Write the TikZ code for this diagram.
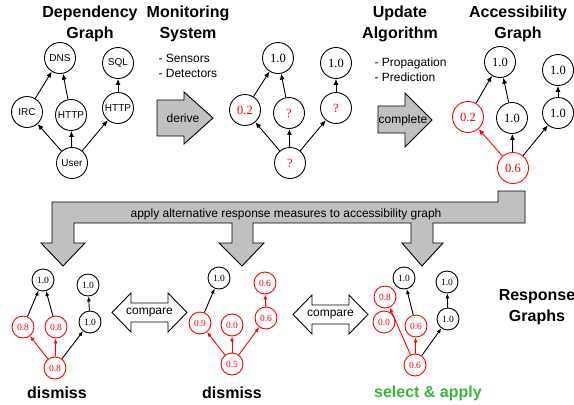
\documentclass[tikz,border=0pt]{standalone}
\usepackage{fontspec}
\setmainfont{Liberation Serif}
\setsansfont{Liberation Sans}
\usepackage{tikz}
\usetikzlibrary{arrows.meta}
\definecolor{AlertRed}{RGB}{255,0,0}
\definecolor{BandGray}{RGB}{192,192,192}
\definecolor{ApplyGreen}{RGB}{57,181,60}

\begin{document}
\begin{tikzpicture}[x=1pt,y=-1pt,>={Latex[length=6pt,width=5pt]},
    dep/.style={circle,draw,line width=.9pt,minimum size=31pt,inner sep=1pt,
      font=\sffamily\fontsize{10}{12}\selectfont},
    acc/.style={circle,draw,line width=.9pt,minimum size=31pt,inner sep=1pt,
      font=\fontsize{12.5}{14}\selectfont},
    resp/.style={circle,draw,line width=.9pt,minimum size=22pt,inner sep=.5pt,
      font=\fontsize{9.5}{11}\selectfont},
    guess/.style={text=AlertRed},
    hot/.style={draw=AlertRed,text=AlertRed},
    link/.style={->,line width=.9pt},
    hotlink/.style={link,AlertRed},
    small/.style={-{Latex[length=5pt,width=4pt]}},
    title/.style={font=\sffamily\bfseries\fontsize{16}{21}\selectfont,align=center},
    caption/.style={font=\sffamily\bfseries\fontsize{16}{19}\selectfont},
    note/.style={font=\sffamily\fontsize{12}{15}\selectfont,align=left,anchor=west},
    label/.style={font=\sffamily\fontsize{12}{14}\selectfont},
    block/.style={draw,fill=BandGray,line width=.9pt},
    hollow/.style={draw,fill=white,line width=.9pt}]
  \useasboundingbox (0,0) rectangle (574,405);

  % titles
  \node[title] (deptitle) at (90,23.5) {Dependency\\Graph};
  \node[title] (montitle) at (188,23.5) {Monitoring\\System};
  \node[title] (updtitle) at (400,23.5) {Update\\Algorithm};
  \node[title] (acctitle) at (518,23.5) {Accessibility\\Graph};
  \node[title] (restitle) at (537,307.5) {Response\\Graphs};
  \node[note] (monnote) at (155,65.5) {- Sensors\\- Detectors};
  \node[note] (updnote) at (371,70) {- Propagation\\- Prediction};

  % dependency graph
  \node[dep] (dns) at (60,58) {DNS};
  \node[dep] (sql) at (118,63) {SQL};
  \node[dep] (irc) at (27,112) {IRC};
  \node[dep] (http) at (71,115) {HTTP};
  \node[dep] (httpb) at (118,108) {HTTP};
  \node[dep] (user) at (72,163) {User};
  \foreach \a/\b in {user/irc,user/http,user/httpb,irc/dns,http/dns,httpb/sql}
    \draw[link] (\a) -- (\b);

  % derive
  \draw[block] (157,100) -- (184,100) -- (184,92) -- (213,118)
    -- (184,144) -- (184,136) -- (157,136) -- cycle;
  \node[label] (derive) at (183,118) {derive};

  % monitored graph
  \node[acc] (mtopa) at (278,58) {1.0};
  \node[acc] (mtopb) at (336,63) {1.0};
  \node[acc,guess] (mirc) at (245,110) {0.2};
  \node[acc,guess] (mhttp) at (289,113) {?};
  \node[acc,guess] (mhttpb) at (336,108) {?};
  \node[acc,guess] (muser) at (290,163) {?};
  \foreach \a/\b in {muser/mirc,muser/mhttp,muser/mhttpb,mirc/mtopa,mhttp/mtopa,mhttpb/mtopb}
    \draw[link] (\a) -- (\b);

  % complete
  \draw[block] (378,106) -- (405,106) -- (405,93) -- (432,120)
    -- (405,147) -- (405,133) -- (378,133) -- cycle;
  \node[label] (complete) at (403,120) {complete};

  % accessibility graph
  \node[acc] (atopa) at (500,62) {1.0};
  \node[acc] (atopb) at (558,70) {1.0};
  \node[acc,hot] (airc) at (468,117) {0.2};
  \node[acc] (ahttp) at (512,118) {1.0};
  \node[acc] (ahttpb) at (558,113) {1.0};
  \node[acc,hot] (auser) at (513,168) {0.6};
  \draw[hotlink] (auser) -- (airc);
  \foreach \a/\b in {auser/ahttp,auser/ahttpb,airc/atopa,ahttp/atopa,ahttpb/atopb}
    \draw[link] (\a) -- (\b);

  % apply band
  \draw[block] (52,202) -- (498,202) -- (498,191) -- (525,191) -- (525,223)
    -- (433,223) -- (433,243) -- (443,243) -- (422,266) -- (402,243) -- (411,243)
    -- (411,223) -- (253,223) -- (253,243) -- (264,243) -- (242,266) -- (219,243)
    -- (232,243) -- (232,223) -- (74,223) -- (74,243) -- (85,243) -- (63,266)
    -- (41,243) -- (52,243) -- cycle;
  \node[label] (apply) at (286,214)
    {apply alternative response measures to accessibility graph};

  % compare
  \foreach \cx/\cy/\k in {149.5/312.5/a,330.5/314.5/b}{
    \draw[hollow] (\cx-37.5,\cy) -- (\cx-18.5,\cy-19.5) -- (\cx-18.5,\cy-9.5)
      -- (\cx+18.5,\cy-9.5) -- (\cx+18.5,\cy-19.5) -- (\cx+37.5,\cy)
      -- (\cx+18.5,\cy+19.5) -- (\cx+18.5,\cy+9.5) -- (\cx-18.5,\cy+9.5)
      -- (\cx-18.5,\cy+19.5) -- cycle;
    \node[label] (compare\k) at (\cx,\cy) {compare};
  }

  % response graph 1
  \node[resp] (ltopa) at (43,280) {1.0};
  \node[resp] (ltopb) at (88,285) {1.0};
  \node[resp,hot] (lirc) at (23,327) {0.8};
  \node[resp,hot] (lhttp) at (56,327) {0.8};
  \node[resp] (lhttpb) at (90,322) {1.0};
  \node[resp,hot] (luser) at (55,368) {0.8};
  \foreach \a/\b in {luser/lirc,luser/lhttp}
    \draw[hotlink,small] (\a) -- (\b);
  \foreach \a/\b in {luser/lhttpb,lirc/ltopa,lhttp/ltopa,lhttpb/ltopb}
    \draw[link,small] (\a) -- (\b);

  % response graph 2
  \node[resp] (ctopa) at (219,278) {1.0};
  \node[resp,hot] (ctopb) at (265,283) {0.6};
  \node[resp,hot] (circ) at (200,323) {0.9};
  \node[resp,hot] (chttp) at (232,325) {0.0};
  \node[resp,hot] (chttpb) at (266,318) {0.6};
  \node[resp,hot] (cuser) at (232,364) {0.5};
  \foreach \a/\b in {cuser/circ,cuser/chttp,cuser/chttpb,chttpb/ctopb}
    \draw[hotlink,small] (\a) -- (\b);
  \draw[link,small] (circ) -- (ctopa);

  % response graph 3
  \node[resp] (rtopa) at (404,278) {1.0};
  \node[resp] (rtopb) at (447,282) {1.0};
  \node[resp,hot] (rirc) at (385,297) {0.8};
  \node[resp,hot] (rblock) at (384,322) {0.0};
  \node[resp,hot] (rhttp) at (416,326) {0.6};
  \node[resp] (rhttpb) at (448,319) {1.0};
  \node[resp,hot] (ruser) at (415,365) {0.6};
  \foreach \a/\b in {ruser/rirc,ruser/rhttp}
    \draw[hotlink,small] (\a) -- (\b);
  \foreach \a/\b in {ruser/rhttpb,rhttp/rtopa,rhttpb/rtopb}
    \draw[link,small] (\a) -- (\b);

  % verdicts
  \node[caption] (dismissa) at (57,393) {dismiss};
  \node[caption] (dismissb) at (232,393) {dismiss};
  \node[caption,text=ApplyGreen] (select) at (428,393) {select \& apply};
\end{tikzpicture}
\end{document}
